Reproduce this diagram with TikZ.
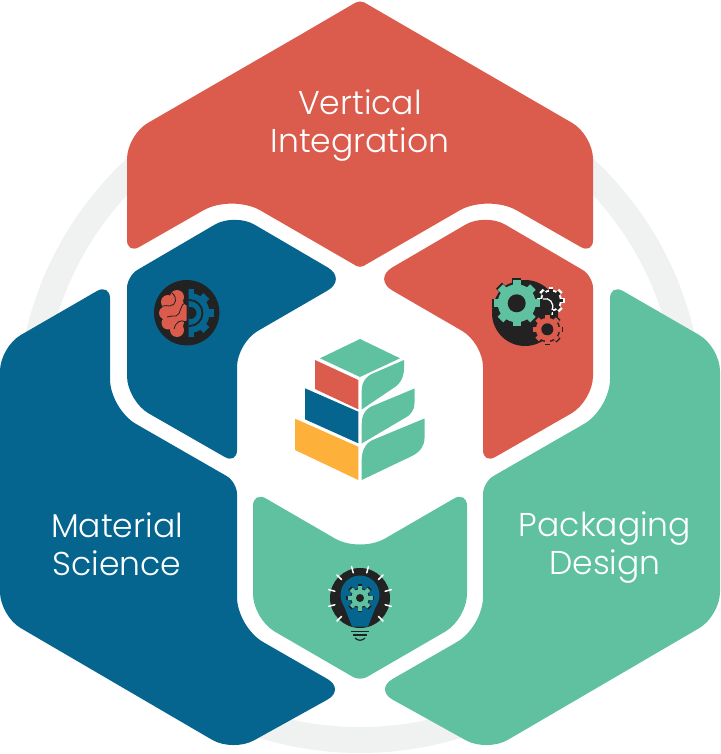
\documentclass[tikz,border=0pt]{standalone}
\usepackage{fontspec}
\usepackage{xcolor}
\usepackage{tikz}
\newfontfamily\labelfont{Poppins Light}
\definecolor{redc}{HTML}{DB5B4D}
\definecolor{bluec}{HTML}{05658F}
\definecolor{greenc}{HTML}{60C1A1}
\definecolor{yellowc}{HTML}{FDB03A}
\definecolor{darkc}{HTML}{222222}
\definecolor{ringc}{HTML}{F0F2F1}
\newcommand{\gearicon}[6]{%
  \fill[#5] (#1,#2) circle (#4);
  \foreach \a in {0,#6,...,359} {
    \fill[#5,shift={(#1,#2)},rotate=\a] (#4-1,-0.17*#3) rectangle (#3,0.17*#3);
  }
}
\begin{document}
\begin{tikzpicture}[
  x=1pt,y=-1pt,
  title/.style={font=\labelfont\fontsize{33}{38}\selectfont, text=white, align=center, inner sep=0pt},
  r/.style={rounded corners=#1}
]
\useasboundingbox (0,0) rectangle (720,754);
\draw[ringc, line width=26pt] (360,410) circle (330);

% large panels
\fill[redc] (300,35) [r=5pt] -- (360,0) [r=24pt] -- (593,135) [r=14pt] -- (593,254) [r=33pt] -- (488,194) [r=4pt] -- (360,268) [r=33pt] -- (232,194) [r=14pt] -- (127,254) [r=24pt] -- (127,135) [sharp corners] -- cycle;
\fill[bluec] (0,450) [r=24pt] -- (0,347) [r=15pt] -- (110,283.5) [r=30pt] -- (110,409) [r=12pt] -- (237,482) [r=30pt] -- (237,627) [r=21pt] -- (345.7,689.5) [r=24pt] -- (233,752) [r=24pt] -- (0,616) [sharp corners] -- cycle;
\fill[greenc] (720,450) [r=24pt] -- (720,347) [r=15pt] -- (610,283.5) [r=30pt] -- (610,409) [r=12pt] -- (483,482) [r=30pt] -- (483,627) [r=21pt] -- (374.3,689.5) [r=24pt] -- (487,752) [r=24pt] -- (720,616) [sharp corners] -- cycle;

% small panels
\fill[bluec] (127,340) [r=12pt] -- (127,276) [r=23pt] -- (234.6,213) [r=23pt] -- (347.5,279) [r=24pt] -- (237,343) [r=14pt] -- (237,464) [r=25pt] -- (127,401) [sharp corners] -- cycle;
\fill[redc] (593,340) [r=12pt] -- (593,276) [r=23pt] -- (485.4,213) [r=23pt] -- (372.5,279) [r=24pt] -- (483,343) [r=14pt] -- (483,464) [r=25pt] -- (593,401) [sharp corners] -- cycle;
\fill[greenc] (253,560) [r=15pt] -- (253,491) [r=29pt] -- (360,553) [r=15pt] -- (467,491) [r=25pt] -- (467,619) [r=8pt] -- (360,681) [r=25pt] -- (253,619) [sharp corners] -- cycle;

% logo
\fill[greenc] (360,339) -- (400,358.3) -- (360,377) -- (320,358.3) -- cycle;
\fill[redc] (315,360) -- (358.3,380) -- (358.3,409.3) -- (315,389) -- cycle;
\fill[bluec] (305,388.3) -- (358.3,411.7) -- (358.3,443.3) -- (305,419.3) -- cycle;
\fill[yellowc] (295,418.7) -- (358.3,446.7) -- (358.3,480) -- (295,450) -- cycle;
\fill[greenc] (361.7,409.5) -- (361.7,391) .. controls (361.7,382) and (366,376) .. (374,373) -- (404,360) -- (404,368) .. controls (404,379) and (399,385) .. (392,389) -- cycle;
\fill[greenc] (361.7,443.5) -- (361.7,424) .. controls (361.7,414) and (366,408) .. (375,405) -- (414.5,388.5) -- (414.5,403) .. controls (414.5,410) and (411,415) .. (404,418.5) -- cycle;
\fill[greenc] (361.7,480) -- (361.7,460) .. controls (361.7,450) and (366,442) .. (375,439) -- (424.5,418.5) -- (424.5,438) .. controls (424.5,446) and (420,452) .. (412,456) -- cycle;

% brain icon
\fill[darkc] (186.7,312.7) circle (32.7);
\begin{scope}
  \clip (150,280) rectangle (186.5,345);
  \foreach \x/\y/\s in {177/297/7,168/302/7,165.5/313/6.5,168/323/6.5,177/330/7,180/313/10,176/305/8,176/322/8} {
    \fill[redc] (\x,\y) circle (\s);
  }
\end{scope}
\draw[darkc, line width=0.8pt] (172,293) .. controls (178,298) and (176,305) .. (170,306) .. controls (167,306) and (165,305) .. (163,306);
\draw[darkc, line width=0.8pt] (186,303) .. controls (179,304) and (182,314) .. (176,316) .. controls (173,317) and (170,315) .. (167,317);
\draw[darkc, line width=0.8pt] (186,322) .. controls (180,319) and (176,322) .. (174,329);
\begin{scope}
  \clip (188.5,280) rectangle (225,345);
  \gearicon{189.5}{313}{24}{20}{bluec}{45}
  \draw[darkc, line width=1.8pt] (189.5,313) circle (13);
  \fill[darkc] (190.5,313) circle (6);
\end{scope}

% gears icon
\fill[darkc] (525,313) circle (33);
\gearicon{551}{300.5}{14}{11}{white}{45}
\gearicon{551}{300.5}{11.5}{9}{darkc}{45}
\fill[darkc] (541,311) circle (11);
\draw[white, line width=1.3pt] (543,299) .. controls (549,297) and (555,303) .. (552,310);
\gearicon{516.7}{303.3}{25}{21}{darkc}{45}
\gearicon{516.7}{303.3}{23}{19}{greenc}{45}
\fill[darkc] (516.7,303.3) circle (9);
\gearicon{547.3}{329.3}{16}{13}{darkc}{45}
\gearicon{547.3}{329.3}{14.5}{11.5}{redc}{45}
\fill[darkc] (547.3,329.3) circle (6);

% bulb icon
\fill[darkc] (360,598) circle (30);
\foreach \a in {15,45,75,105,135,165,195,225,315,345} {
  \draw[white, line width=1.5pt, line cap=round] (360,598) ++(\a:-26) -- ++(\a:-6.5);
}
\fill[bluec] (360,595) circle (19.5);
\fill[bluec] (344,606) -- (352,626.5) -- (368,626.5) -- (376,606) -- cycle;
\gearicon{360}{598}{14}{10}{darkc}{45}
\gearicon{360}{598}{12.5}{8.8}{greenc}{45}
\fill[darkc] (360,598) circle (4);
\draw[darkc, line width=1.2pt] (351,631.5) -- (369,631.5);
\draw[darkc, line width=1.2pt] (353,635) -- (367,635);
\draw[darkc, line width=1.2pt] (355,638) .. controls (358,641) and (362,641) .. (365,638);

\node[title] (vertical) at (360,126) {Vertical\\Integration};
\node[title] (material) at (117,544) {Material\\Science};
\node[title] (packaging) at (605,548) {Packaging\\Design};
\end{tikzpicture}
\end{document}
